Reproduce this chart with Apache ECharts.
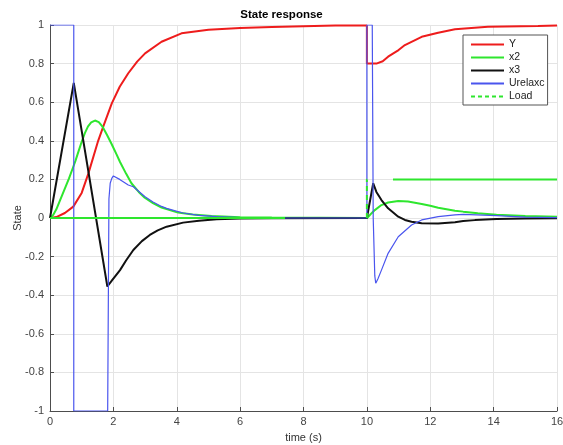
<!DOCTYPE html>
<html>
<head>
<meta charset="utf-8">
<script src="https://cdn.jsdelivr.net/npm/echarts@6/dist/echarts.min.js"></script>
<style>
html,body{margin:0;padding:0;background:#fff;}
#chart{width:563px;height:445px;}
</style>
</head>
<body>
<div id="chart"></div>
<script>
// ---- data ----
var xTicks = [0, 2, 4, 6, 8, 10, 12, 14, 16];
var yTicks = [-1, -0.8, -0.6, -0.4, -0.2, 0, 0.2, 0.4, 0.6, 0.8, 1];

var yT = [0, 0.2, 0.47, 0.735, 1.0, 1.21, 1.52, 1.68, 1.95, 2.2, 2.47, 2.75, 3.0, 3.52, 4.15, 5, 6, 7, 8, 9, 10, 10, 10.3, 10.5, 10.67, 11.0, 11.2, 11.73, 12.25, 12.78, 13.82, 15.4, 16];
var yV = [0, 0.005, 0.026, 0.059, 0.13, 0.23, 0.4, 0.473, 0.594, 0.68, 0.75, 0.81, 0.853, 0.913, 0.957, 0.975, 0.985, 0.99, 0.994, 0.997, 0.998, 0.80, 0.80, 0.812, 0.836, 0.87, 0.896, 0.939, 0.96, 0.978, 0.991, 0.995, 0.997];

var x2T = [0, 0.1, 0.2, 0.3, 0.4, 0.5, 0.6, 0.7, 0.8, 0.9, 1.0, 1.1, 1.2, 1.3, 1.42, 1.54, 1.65, 1.8, 1.94, 2.1, 2.21, 2.4, 2.57, 2.8, 2.99, 3.25, 3.52, 4.04, 4.5, 5.1, 6, 7, 10.01, 10.15, 10.25, 10.46, 10.67, 10.99, 11.3, 11.73, 12.0, 12.25, 12.78, 13.04, 13.5, 14.09, 15, 16];
var x2V = [0, 0.015, 0.045, 0.085, 0.125, 0.165, 0.205, 0.25, 0.295, 0.345, 0.395, 0.44, 0.475, 0.495, 0.505, 0.497, 0.475, 0.43, 0.385, 0.33, 0.29, 0.23, 0.18, 0.135, 0.105, 0.077, 0.054, 0.028, 0.018, 0.01, 0.004, 0.002, 0, 0.025, 0.041, 0.067, 0.08, 0.088, 0.085, 0.073, 0.063, 0.053, 0.038, 0.033, 0.025, 0.017, 0.01, 0.006];

var x3T = [0, 0.75, 1.81, 1.95, 2.21, 2.4, 2.63, 2.9, 3.15, 3.4, 3.68, 4.2, 4.7, 5.26, 6, 7, 10, 10.2, 10.3, 10.46, 10.67, 10.99, 11.2, 11.41, 11.73, 12.25, 12.78, 13.04, 13.41, 14.09, 15, 16];
var x3V = [0, 0.70, -0.355, -0.325, -0.27, -0.22, -0.166, -0.12, -0.088, -0.064, -0.045, -0.024, -0.014, -0.007, -0.003, -0.001, 0, 0.18, 0.135, 0.093, 0.05, 0.007, -0.01, -0.019, -0.027, -0.028, -0.022, -0.016, -0.011, -0.005, -0.002, -0.001];

var uT = [0, 0.75, 0.75, 1.82, 1.86, 1.9, 1.95, 2.0, 2.2, 2.47, 2.63, 3.0, 3.25, 3.52, 3.68, 4.2, 4.7, 5.26, 6, 7, 10, 10, 10.17, 10.2, 10.25, 10.28, 10.35, 10.46, 10.67, 10.99, 11.41, 11.73, 12.25, 12.78, 13.04, 14.09, 15, 16];
var uV = [1, 1, -1, -1, 0.1, 0.18, 0.205, 0.218, 0.2, 0.171, 0.162, 0.11, 0.083, 0.06, 0.05, 0.026, 0.014, 0.007, 0.002, 0, 0, 1, 1, 0, -0.3, -0.338, -0.315, -0.27, -0.183, -0.097, -0.036, -0.01, 0.007, 0.016, 0.019, 0.012, 0.005, 0.002];

var loadT = [0, 10, 10, 16];
var loadV = [0, 0, 0.2, 0.2];

function pairs(t, v) { return t.map(function (x, i) { return [x, v[i]]; }); }

var FONT = "'Liberation Sans', Arial, sans-serif";
var chart = echarts.init(document.getElementById('chart'), null, { renderer: 'canvas' });

function lineSeries(name, t, v, color, width, type, z) {
  return {
    name: name, type: 'line', data: pairs(t, v), symbol: 'none', showSymbol: false,
    smooth: false, animation: false, z: z, clip: true,
    lineStyle: { color: color, width: width, type: type || 'solid' },
    itemStyle: { color: color }
  };
}

chart.setOption({
  backgroundColor: '#ffffff',
  animation: false,
  title: {
    text: 'State response', left: 'center', top: 9, padding: 0,
    textStyle: { fontFamily: FONT, fontSize: 11.5, fontWeight: 'bold', color: '#000' }
  },
  grid: { left: 50, right: 6, top: 25, bottom: 34, containLabel: false, outerBoundsMode: 'none' },
  xAxis: {
    type: 'value', min: 0, max: 16, interval: 2,
    name: 'time (s)', nameLocation: 'middle', nameGap: 21, nameMoveOverlap: false,
    nameTextStyle: { fontFamily: FONT, fontSize: 11, color: '#333' },
    axisLine: { show: true, onZero: false, lineStyle: { color: '#4d4d4d', width: 1 } },
    axisTick: { show: true, inside: true, length: 4, lineStyle: { color: '#4d4d4d' } },
    axisLabel: { fontFamily: FONT, fontSize: 11, color: '#444', margin: 5,
      formatter: function (v) { return xTicks.indexOf(v) >= 0 ? String(v) : ''; } },
    splitLine: { show: true, lineStyle: { color: '#e4e4e4', width: 1 } }
  },
  yAxis: {
    type: 'value', min: -1, max: 1, interval: 0.2,
    name: 'State', nameLocation: 'middle', nameGap: 27, nameMoveOverlap: false,
    nameTextStyle: { fontFamily: FONT, fontSize: 11, color: '#333' },
    axisLine: { show: true, onZero: false, lineStyle: { color: '#4d4d4d', width: 1 } },
    axisTick: { show: true, inside: true, length: 4, lineStyle: { color: '#4d4d4d' } },
    axisLabel: { fontFamily: FONT, fontSize: 11, color: '#444', margin: 6,
      formatter: function (v) {
        for (var i = 0; i < yTicks.length; i++) { if (Math.abs(yTicks[i] - v) < 1e-9) return String(yTicks[i]); }
        return '';
      } },
    splitLine: { show: true, lineStyle: { color: '#e4e4e4', width: 1 } }
  },
  legend: {
    orient: 'vertical', left: 463, top: 35,
    padding: [4, 3, 3, 7], itemGap: 2, itemWidth: 33, itemHeight: 10,
    backgroundColor: '#fff', borderColor: '#555', borderWidth: 1, borderRadius: 0,
    itemStyle: { color: 'rgba(0,0,0,0)', borderColor: 'rgba(0,0,0,0)', borderWidth: 0, opacity: 0 },
    textStyle: { fontFamily: FONT, fontSize: 10.5, color: '#222', lineHeight: 10 },
    data: [
      { name: 'Y' },
      { name: 'x2' },
      { name: 'x3' },
      { name: 'Urelaxc' },
      { name: 'Load', lineStyle: { type: [4, 3] } }
    ]
  },
  series: [
    lineSeries('Y', yT, yV, '#ee1c1c', 2, 'solid', 2),
    lineSeries('x2', x2T, x2V, '#2ee62e', 2, 'solid', 3),
    lineSeries('x3', x3T, x3V, '#111111', 2, 'solid', 4),
    lineSeries('Urelaxc', uT, uV, '#4a55ee', 1.2, 'solid', 5),
    lineSeries('Load', loadT, loadV, '#2ee62e', 2, [235, 82, 5, 4, 5, 4, 5, 4, 5, 4, 2.6, 26, 400], 6)
  ]
});
</script>
</body>
</html>
